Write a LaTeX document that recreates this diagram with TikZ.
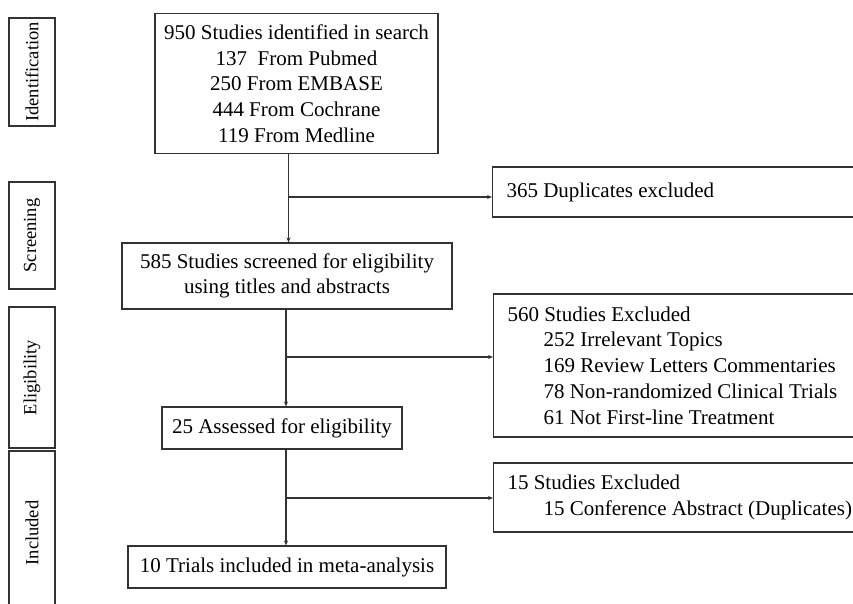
\documentclass[tikz,border=0pt]{standalone}
\usepackage{fontspec}
\setmainfont{Liberation Serif}
\usetikzlibrary{arrows.meta}
\begin{document}
\begin{tikzpicture}[x=1pt,y=-1pt,
  font=\fontsize{21}{25.7}\selectfont,
  line width=1.1pt,
  every node/.style={draw=black!80, line width=1.1pt, inner sep=0pt},
  mainbox/.style={align=center},
  sidebox/.style={align=flush left, anchor=west, inner xsep=14pt},
  stagebox/.style={rotate=90, minimum height=46pt, font=\fontsize{18.5}{22}\selectfont},
  conn/.style={draw=black!80, -{Stealth[length=5pt,width=4pt]}}]
\useasboundingbox (0,0) rectangle (853,603);
\clip (0,0) rectangle (853,603);
% stage labels
\node[stagebox, minimum width=108pt] (sid) at (32,72) {Identification};
\node[stagebox, minimum width=107pt] (ssc) at (32,235.5) {Screening};
\node[stagebox, minimum width=141pt] (sel) at (32,377.5) {Eligibility};
\node[stagebox, minimum width=164pt] (sin) at (32,533) {Included};
% main boxes
\node[mainbox, minimum width=283pt, minimum height=140pt] (b1) at (296.5,83.5)
  {950 Studies identified in search\\137\ \ From Pubmed\\250 From EMBASE\\444 From Cochrane\\119 From Medline};
\node[mainbox, minimum width=330pt, minimum height=66pt] (scr) at (287,276)
  {585 Studies screened for eligibility\\using titles and abstracts};
\node[mainbox, minimum width=240pt, minimum height=42pt] (ass) at (282,428)
  {25 Assessed for eligibility};
\node[mainbox, minimum width=318pt, minimum height=42pt] (fin) at (287,567)
  {10 Trials included in meta-analysis};
% side boxes
\node[sidebox, text width=360pt, minimum height=50pt] (dup) at (492,192)
  {365 Duplicates excluded};
\node[sidebox, text width=360pt, minimum height=143pt] (ex1) at (493,365.5)
  {560 Studies Excluded\\\hspace*{36pt}252 Irrelevant Topics\\\hspace*{36pt}169 Review Letters Commentaries\\\hspace*{36pt}78 Non-randomized Clinical Trials\\\hspace*{36pt}61 Not First-line Treatment};
\node[sidebox, text width=360pt, minimum height=69pt] (ex2) at (493,497.5)
  {15 Studies Excluded\\\hspace*{36pt}15 Conference Abstract (Duplicates)};
% junctions
\coordinate (j1) at (288.5,197);
\coordinate (j2) at (286,357);
\coordinate (j3) at (286,498);
% connectors
\draw[conn] (b1.south -| j1) -- (scr.north -| j1);
\draw[conn] (j1) -- (dup.west |- j1);
\draw[conn] (scr.south -| j2) -- (ass.north -| j2);
\draw[conn] (j2) -- (ex1.west |- j2);
\draw[conn] (ass.south -| j3) -- (fin.north -| j3);
\draw[conn] (j3) -- (ex2.west |- j3);
\end{tikzpicture}
\end{document}
